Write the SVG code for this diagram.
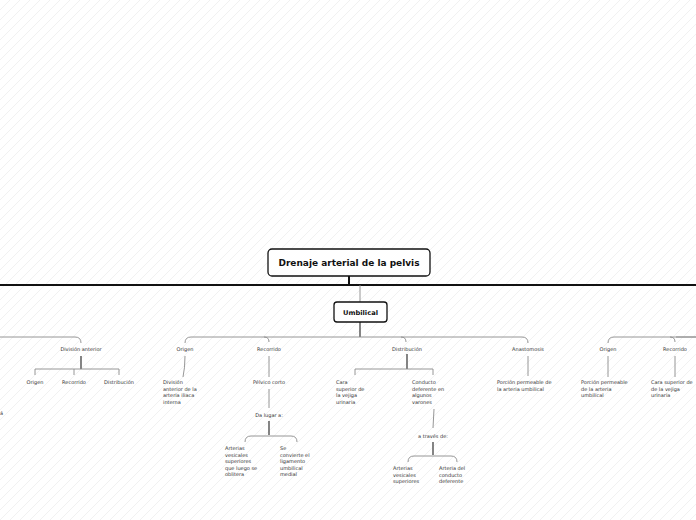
<svg xmlns="http://www.w3.org/2000/svg" width="696" height="520" viewBox="0 0 696 520">
<defs>
<pattern id="hatch" patternUnits="userSpaceOnUse" width="10" height="10">
<path d="M0,10 L10,0 M-3,3 L3,-3 M7,13 L13,7" stroke="#f1f1f1" stroke-width="1"/>
</pattern>
<style>
.t{font-family:"DejaVu Sans","Liberation Sans",sans-serif;font-size:5px;fill:#333}
.lbl{text-anchor:middle}
.title{font-family:"DejaVu Sans","Liberation Sans",sans-serif;font-weight:bold;fill:#111;text-anchor:middle}
.box{fill:#fff;stroke:#111;stroke-width:1.3}
.g{fill:none;stroke:#8a8a8a;stroke-width:0.9}
.d{fill:none;stroke:#333;stroke-width:1.2}
.k{fill:none;stroke:#111;stroke-width:2}
</style>
</defs>
<rect width="696" height="520" fill="#fff"/>
<rect width="696" height="520" fill="url(#hatch)"/>

<g id="connectors">
<path class="k" d="M0,285 L696,285"/>
<path class="k" d="M349,276 L349,285"/>
<path class="g" d="M360,285 L360,302"/>
<path class="d" d="M360,322 L360,337"/>
<path class="g" d="M185,343 Q185,337 191,337 L522,337 Q528,337 528,343"/>
<path class="g" d="M264,337 Q269,337 269,342"/>
<path class="g" d="M401,337 Q406,337 406,342"/>
<path class="g" d="M0,337 L75,337 Q81,337 81,343"/>
<path class="g" d="M608,343 Q608,337 614,337 L696,337"/>
<path class="g" d="M670,337 Q675,337 675,342"/>
<path class="g" d="M676,337 L696,337" stroke="#555"/>
<path class="d" d="M81,356 L81,369"/>
<path class="g" d="M35,375 L35,369 L119,369 L119,375 M74,369 L74,375"/>
<path class="g" d="M185,356 Q185,368 183,377"/>
<path class="g" d="M269,356 L269,377"/>
<path class="g" d="M269,389 L269,408"/>
<path class="d" d="M269,421 L269,435"/>
<path class="g" d="M245,442 Q245,436 251,436 L291,436 Q297,436 297,442"/>
<path class="d" d="M407,354 L407,369"/>
<path class="g" d="M355,375 L355,369 L433,369 L433,375"/>
<path class="g" d="M434,409 L433,428"/>
<path class="d" d="M433,442 L433,455"/>
<path class="g" d="M408,462 Q408,456 414,456 L451,456 Q457,456 457,462"/>
<path class="g" d="M528,356 L528,376"/>
<path class="g" d="M608,356 L608,377"/>
<path class="g" d="M675,356 L675,377"/>
</g>

<g id="n-title">
<rect class="box" x="268" y="249" width="162" height="27" rx="4"/>
<text class="title" x="349" y="266" font-size="9" textLength="141" lengthAdjust="spacingAndGlyphs">Drenaje arterial de la pelvis</text>
</g>
<g id="n-umbilical">
<rect class="box" x="334" y="302" width="53" height="20" rx="3"/>
<text class="title" x="360.5" y="315" font-size="6.5" textLength="35" lengthAdjust="spacingAndGlyphs">Umbilical</text>
</g>

<g id="n-left-cut"><text class="t" x="0" y="415">á</text></g>
<g id="n-div-anterior"><text class="t lbl" x="81" y="351">División anterior</text></g>
<g id="n-l-origen"><text class="t lbl" x="35" y="384">Origen</text></g>
<g id="n-l-recorrido"><text class="t lbl" x="74" y="384">Recorrido</text></g>
<g id="n-l-distribucion"><text class="t lbl" x="119" y="384">Distribución</text></g>

<g id="n-origen"><text class="t lbl" x="185" y="351">Origen</text></g>
<g id="n-origen-txt"><text class="t" x="163" y="384"><tspan x="163">División</tspan><tspan x="163" dy="6.6">anterior de la</tspan><tspan x="163" dy="6.6">arteria iliaca</tspan><tspan x="163" dy="6.6">interna</tspan></text></g>

<g id="n-recorrido"><text class="t lbl" x="269" y="351">Recorrido</text></g>
<g id="n-pelvico"><text class="t lbl" x="269" y="384">Pélvico corto</text></g>
<g id="n-dalugar"><text class="t lbl" x="269" y="417">Da lugar a:</text></g>
<g id="n-arterias-ves1"><text class="t" x="225" y="450"><tspan x="225">Arterias</tspan><tspan x="225" dy="6.5">vesicales</tspan><tspan x="225" dy="6.5">superiores</tspan><tspan x="225" dy="6.5">que luego se</tspan><tspan x="225" dy="6.5">oblitera</tspan></text></g>
<g id="n-ligamento"><text class="t" x="280" y="450"><tspan x="280">Se</tspan><tspan x="280" dy="6.5">convierte el</tspan><tspan x="280" dy="6.5">ligamento</tspan><tspan x="280" dy="6.5">umbilical</tspan><tspan x="280" dy="6.5">medial</tspan></text></g>

<g id="n-distribucion"><text class="t lbl" x="407" y="351">Distribución</text></g>
<g id="n-cara"><text class="t" x="336" y="384"><tspan x="336">Cara</tspan><tspan x="336" dy="6.6">superior de</tspan><tspan x="336" dy="6.6">la vejiga</tspan><tspan x="336" dy="6.6">urinaria</tspan></text></g>
<g id="n-conducto"><text class="t" x="412" y="384"><tspan x="412">Conducto</tspan><tspan x="412" dy="6.6">deferente en</tspan><tspan x="412" dy="6.6">algunos</tspan><tspan x="412" dy="6.6">varones</tspan></text></g>
<g id="n-atraves"><text class="t lbl" x="433" y="438">a través de:</text></g>
<g id="n-arterias-ves2"><text class="t" x="393" y="470"><tspan x="393">Arterias</tspan><tspan x="393" dy="6.5">vesicales</tspan><tspan x="393" dy="6.5">superiores</tspan></text></g>
<g id="n-arteria-cond"><text class="t" x="439" y="470"><tspan x="439">Arteria del</tspan><tspan x="439" dy="6.5">conducto</tspan><tspan x="439" dy="6.5">deferente</tspan></text></g>

<g id="n-anastomosis"><text class="t lbl" x="528" y="351">Anastomosis</text></g>
<g id="n-porcion1"><text class="t" x="497" y="384"><tspan x="497">Porción permeable de</tspan><tspan x="497" dy="6.6">la arteria umbilical</tspan></text></g>

<g id="n-r-origen"><text class="t lbl" x="608" y="351">Origen</text></g>
<g id="n-porcion2"><text class="t" x="581" y="384"><tspan x="581">Porción permeable</tspan><tspan x="581" dy="6.6">de la arteria</tspan><tspan x="581" dy="6.6">umbilical</tspan></text></g>
<g id="n-r-recorrido"><text class="t lbl" x="675" y="351">Recorrido</text></g>
<g id="n-r-cara"><text class="t" x="651" y="384"><tspan x="651">Cara superior de</tspan><tspan x="651" dy="6.6">de la vejiga</tspan><tspan x="651" dy="6.6">urinaria</tspan></text></g>
</svg>
